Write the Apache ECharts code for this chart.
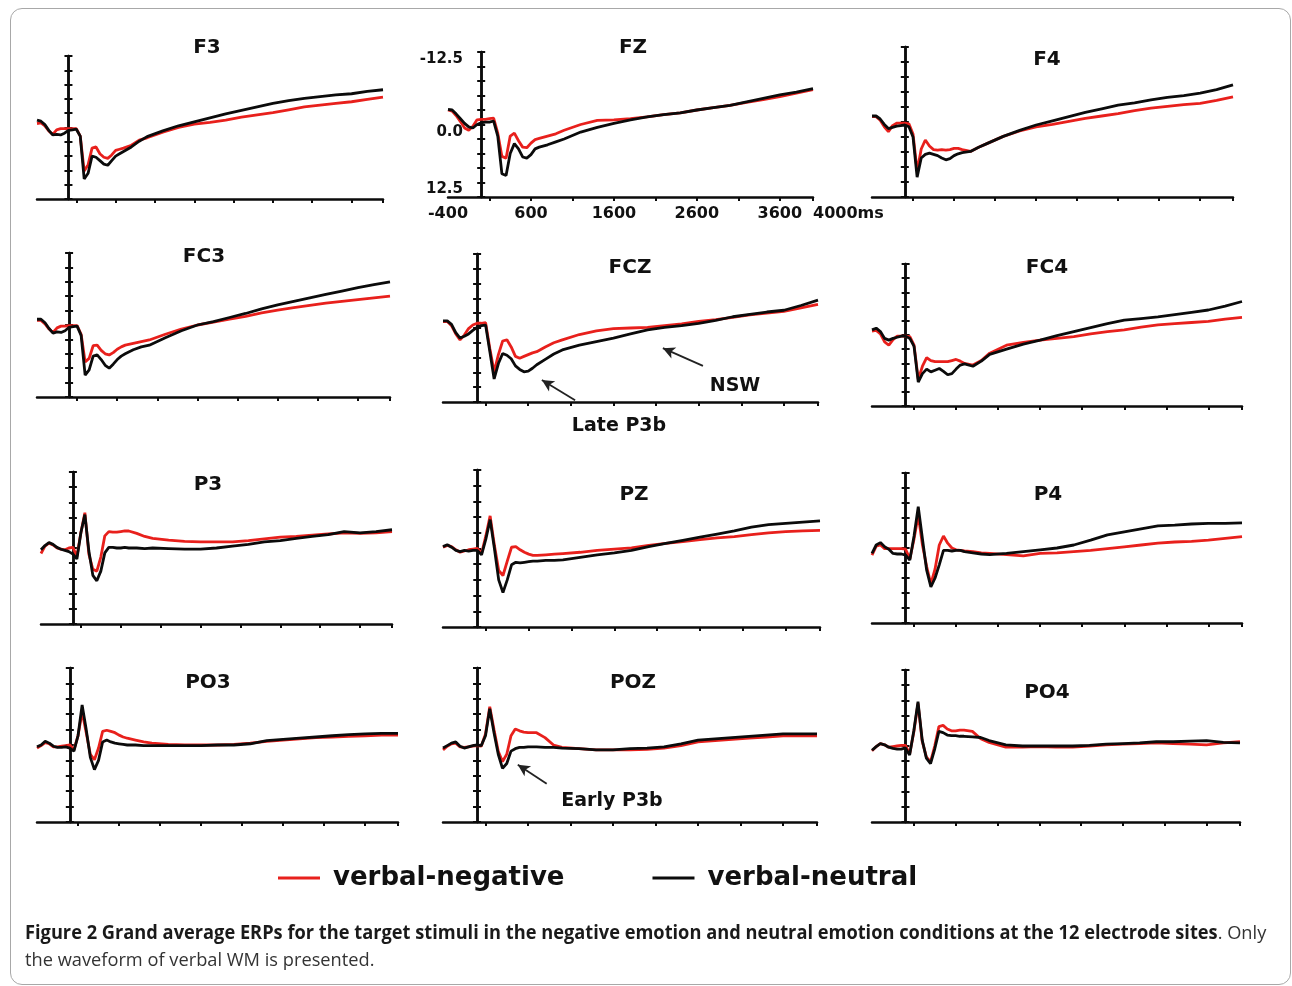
<!DOCTYPE html>
<html>
<head>
<meta charset="utf-8">
<script src="https://cdn.jsdelivr.net/npm/echarts@6/dist/echarts.min.js"></script>
<style>
  html, body { margin: 0; padding: 0; background: #fff; }
  #frame { position: absolute; left: 10px; top: 8px; width: 1281px; height: 977px; box-sizing: border-box; border: 1px solid #a8a8a8; border-radius: 12px; }
  #main { position: absolute; left: 0; top: 0; width: 1292px; height: 986px; }
</style>
</head>
<body>
<div id="frame"></div>
<div id="main"></div>
<script>
// time points (ms) shared by every waveform
const times = [-400, -350, -300, -250, -200, -150, -100, -50, 0, 50, 100, 150, 200, 250, 300, 350, 400, 450, 500, 550, 600, 650, 700, 800, 900, 1000, 1200, 1400, 1600, 1800, 2000, 2200, 2400, 2600, 2800, 3000, 3200, 3400, 3600, 3800, 4000]

// amplitudes in uV (negative drawn upward)
const f3Neg = [-0.7, -0.8, -0.3, 0.6, 1.2, 0.4, 0.2, 0.2, 0.2, 0.2, 0.2, 1.5, 7.6, 6.5, 3.6, 3.4, 4.6, 5.2, 5.4, 4.8, 4.0, 3.8, 3.6, 3.1, 2.2, 1.8, 0.8, 0.0, -0.6, -0.9, -1.3, -1.8, -2.2, -2.6, -3.1, -3.6, -3.9, -4.2, -4.5, -4.9, -5.3]
const f3Neu = [-1.3, -1.1, -0.5, 0.5, 1.3, 1.2, 1.3, 1.0, 0.5, 0.4, 0.3, 1.5, 9.0, 8.0, 5.0, 5.2, 5.8, 6.4, 6.6, 5.8, 5.0, 4.6, 4.2, 3.4, 2.4, 1.6, 0.6, -0.3, -1.0, -1.7, -2.4, -3.0, -3.6, -4.2, -4.7, -5.1, -5.4, -5.7, -5.9, -6.3, -6.6]
const fzNeg = [-2.5, -2.3, -1.5, -0.5, 0.6, 1.0, 0.3, -0.8, -0.9, -0.9, -1.0, -1.1, 1.5, 5.5, 5.8, 2.0, 1.5, 2.8, 3.9, 4.0, 3.2, 2.6, 2.4, 2.0, 1.6, 1.0, 0.0, -0.7, -0.8, -1.0, -1.3, -1.7, -2.0, -2.5, -2.9, -3.3, -3.8, -4.3, -4.8, -5.4, -6.0]
const fzNeu = [-2.6, -2.5, -1.8, -1.0, -0.2, 0.4, 0.6, 0.0, -0.3, -0.4, -0.4, -0.6, 2.0, 8.5, 8.8, 5.0, 3.3, 4.2, 5.6, 5.8, 5.2, 4.2, 3.9, 3.5, 3.0, 2.5, 1.3, 0.5, -0.2, -0.8, -1.3, -1.7, -2.0, -2.5, -2.9, -3.3, -3.9, -4.5, -5.1, -5.6, -6.2]
const f4Neg = [-0.9, -0.9, -0.3, 0.8, 1.6, 0.6, 0.2, 0.2, 0.2, 0.3, 2.0, 8.2, 4.5, 3.0, 4.0, 4.6, 4.7, 4.6, 4.7, 4.6, 4.4, 4.4, 4.6, 4.9, 4.2, 3.6, 2.4, 1.5, 0.8, 0.4, -0.1, -0.6, -1.0, -1.4, -1.9, -2.3, -2.6, -2.9, -3.1, -3.6, -4.2]
const f4Neu = [-1.0, -1.0, -0.5, 0.4, 1.1, 0.9, 0.7, 0.6, 0.5, 0.8, 2.5, 9.2, 6.0, 5.4, 5.2, 5.4, 5.6, 6.0, 6.3, 6.1, 5.6, 5.3, 5.1, 4.9, 4.2, 3.6, 2.4, 1.4, 0.5, -0.2, -0.9, -1.6, -2.2, -2.8, -3.2, -3.7, -4.1, -4.4, -4.8, -5.4, -6.2]
const fc3Neg = [-0.8, -0.8, -0.2, 0.7, 1.3, 0.5, 0.2, 0.2, 0.1, 0.1, 0.1, 1.6, 6.4, 5.8, 3.6, 3.5, 4.4, 5.0, 5.2, 4.8, 4.2, 3.8, 3.5, 3.2, 2.9, 2.6, 1.6, 0.7, 0.0, -0.5, -1.0, -1.5, -2.1, -2.6, -3.0, -3.4, -3.8, -4.1, -4.4, -4.7, -5.0]
const fc3Neu = [-1.0, -1.0, -0.4, 0.6, 1.4, 1.2, 1.3, 1.0, 0.4, 0.3, 0.2, 1.8, 8.7, 7.8, 5.4, 5.2, 6.0, 7.0, 7.5, 6.8, 6.0, 5.4, 5.0, 4.3, 3.8, 3.5, 2.2, 1.0, 0.0, -0.6, -1.3, -2.0, -2.8, -3.5, -4.1, -4.7, -5.3, -5.9, -6.5, -7.0, -7.5]
const fczNeg = [-1.1, -1.1, -0.4, 1.0, 2.0, 1.2, 0.1, -0.5, -0.8, -0.8, -0.9, 3.5, 7.4, 4.5, 2.2, 2.0, 3.2, 4.8, 5.1, 4.8, 4.5, 4.2, 4.0, 3.2, 2.5, 2.0, 1.1, 0.5, 0.1, 0.0, -0.1, -0.4, -0.7, -1.1, -1.4, -1.8, -2.2, -2.5, -2.8, -3.4, -4.0]
const fczNeu = [-1.2, -1.2, -0.6, 0.8, 1.7, 1.4, 1.0, 0.4, -0.1, -0.4, -0.5, 4.0, 8.6, 6.0, 4.3, 4.6, 5.2, 6.4, 7.0, 7.4, 7.3, 6.8, 6.2, 5.3, 4.4, 3.7, 2.9, 2.3, 1.7, 1.0, 0.3, -0.1, -0.4, -0.8, -1.3, -1.9, -2.3, -2.7, -3.0, -3.8, -4.7]
const fc4Neg = [-0.7, -0.8, -0.2, 1.2, 1.8, 0.8, 0.2, 0.2, 0.2, 0.3, 1.8, 7.8, 5.5, 4.0, 4.5, 4.7, 4.7, 4.7, 4.7, 4.5, 4.3, 4.6, 5.0, 5.3, 4.5, 3.2, 1.8, 1.3, 0.9, 0.6, 0.3, -0.2, -0.6, -0.9, -1.4, -1.8, -2.0, -2.2, -2.4, -2.8, -3.1]
const fc4Neu = [-0.9, -1.2, -0.6, 0.6, 0.9, 0.6, 0.4, 0.2, 0.2, 0.6, 2.0, 8.3, 6.8, 6.0, 6.5, 6.2, 5.9, 6.4, 7.0, 6.8, 6.0, 5.3, 5.1, 5.5, 4.6, 3.4, 2.5, 1.6, 0.9, 0.1, -0.6, -1.3, -2.0, -2.6, -2.9, -3.2, -3.6, -4.0, -4.4, -5.1, -5.9]
const p3Neg = [0.9, -0.3, -0.8, -0.5, 0.0, 0.2, 0.3, 0.0, -0.1, 1.4, -2.5, -5.8, 1.0, 3.5, 3.8, 1.5, -2.0, -2.7, -2.6, -2.6, -2.7, -2.8, -2.8, -2.4, -1.9, -1.6, -1.3, -1.1, -1.0, -1.0, -1.0, -1.2, -1.5, -1.8, -1.9, -2.1, -2.3, -2.5, -2.4, -2.5, -2.7]
const p3Neu = [0.3, -0.4, -0.9, -0.6, -0.1, 0.2, 0.4, 0.6, 1.0, 1.8, -2.5, -5.5, 0.5, 4.5, 5.4, 3.8, 0.8, -0.1, -0.1, 0.0, 0.0, -0.1, 0.0, 0.0, 0.1, 0.0, 0.1, 0.2, 0.2, 0.0, -0.3, -0.6, -1.0, -1.2, -1.6, -1.9, -2.2, -2.7, -2.5, -2.7, -3.0]
const pzNeg = [-0.2, -0.5, -0.3, 0.2, 0.6, 0.4, 0.2, 0.1, 0.0, 0.8, -2.0, -5.2, -0.5, 3.5, 4.3, 2.0, -0.2, -0.3, 0.2, 0.6, 0.9, 1.1, 1.1, 1.0, 0.9, 0.8, 0.6, 0.3, 0.1, -0.1, -0.5, -0.8, -1.1, -1.4, -1.7, -1.9, -2.2, -2.5, -2.7, -2.8, -2.9]
const pzNeu = [-0.3, -0.6, -0.2, 0.3, 0.5, 0.3, 0.4, 0.3, 0.3, 1.0, -1.5, -4.6, 0.0, 5.0, 7.0, 5.0, 2.6, 2.2, 2.3, 2.2, 2.1, 2.0, 2.0, 1.9, 1.9, 1.8, 1.4, 1.0, 0.7, 0.3, -0.3, -0.8, -1.3, -1.8, -2.3, -2.8, -3.4, -3.8, -4.0, -4.2, -4.4]
const p4Neg = [1.2, -0.3, -0.5, 0.1, 0.1, 0.1, 0.1, 0.1, 0.2, 1.8, -1.5, -5.5, -0.5, 3.1, 6.0, 3.5, -0.5, -2.0, -0.8, 0.0, 0.3, 0.4, 0.5, 0.6, 0.8, 0.9, 1.1, 1.3, 0.9, 0.8, 0.6, 0.4, 0.1, -0.2, -0.5, -0.8, -1.0, -1.1, -1.3, -1.6, -1.9]
const p4Neu = [0.9, -0.5, -0.9, -0.2, 0.2, 0.9, 1.0, 1.0, 1.2, 2.0, -2.0, -6.9, -1.5, 3.7, 6.5, 5.0, 2.8, 0.4, 0.4, 0.5, 0.4, 0.4, 0.6, 0.8, 1.0, 1.1, 0.9, 0.6, 0.3, 0.0, -0.5, -1.3, -2.2, -2.7, -3.2, -3.7, -3.8, -4.0, -4.1, -4.1, -4.2]
const po3Neg = [0.5, 0.1, -0.4, -0.2, 0.3, 0.3, 0.2, 0.1, 0.0, 0.8, -1.5, -5.4, -2.0, 1.5, 2.4, 0.5, -2.2, -2.4, -2.2, -2.0, -1.6, -1.3, -1.1, -0.8, -0.5, -0.3, -0.1, 0.0, 0.0, 0.0, -0.1, -0.3, -0.6, -0.8, -1.0, -1.2, -1.3, -1.4, -1.5, -1.6, -1.6]
const po3Neu = [0.3, 0.0, -0.6, -0.3, 0.2, 0.4, 0.4, 0.3, 0.5, 1.0, -1.5, -6.5, -2.5, 2.0, 4.0, 2.5, -0.5, -0.8, -0.5, -0.3, -0.2, -0.1, 0.0, 0.0, 0.1, 0.1, 0.1, 0.1, 0.1, 0.0, 0.0, -0.2, -0.7, -0.9, -1.1, -1.3, -1.5, -1.7, -1.8, -1.9, -1.9]
const pozNeg = [0.8, 0.2, -0.2, -0.3, 0.3, 0.4, 0.3, 0.2, 0.1, 0.2, -1.8, -6.2, -2.5, 1.0, 2.7, 1.5, -1.5, -2.6, -2.3, -2.1, -2.0, -2.0, -2.0, -1.2, 0.0, 0.4, 0.6, 0.8, 0.8, 0.8, 0.7, 0.5, 0.1, -0.5, -0.7, -0.9, -1.1, -1.3, -1.5, -1.5, -1.5]
const pozNeu = [0.5, 0.1, -0.3, -0.5, 0.2, 0.5, 0.3, 0.1, 0.0, 0.1, -1.5, -5.9, -2.0, 1.5, 3.8, 3.0, 1.0, 0.6, 0.4, 0.4, 0.3, 0.3, 0.3, 0.4, 0.4, 0.5, 0.6, 0.8, 0.8, 0.6, 0.5, 0.3, -0.2, -0.8, -1.0, -1.2, -1.4, -1.6, -1.8, -1.8, -1.8]
const po4Neg = [0.8, 0.1, -0.4, -0.2, 0.2, 0.1, 0.0, -0.1, -0.1, 1.3, -2.3, -7.0, -0.8, 1.8, 2.6, 0.0, -3.2, -3.4, -2.8, -2.5, -2.5, -2.6, -2.6, -2.4, -1.2, -0.6, 0.2, 0.2, 0.1, 0.2, 0.2, 0.0, -0.2, -0.3, -0.4, -0.5, -0.4, -0.3, -0.2, -0.5, -0.7]
const po4Neu = [0.7, 0.1, -0.4, -0.2, 0.2, 0.4, 0.5, 0.5, 0.3, 1.5, -2.5, -7.3, -1.0, 2.0, 2.9, 0.5, -2.4, -2.2, -1.8, -1.7, -1.7, -1.6, -1.6, -1.5, -1.4, -0.9, -0.2, 0.0, 0.0, 0.0, 0.0, -0.1, -0.3, -0.4, -0.5, -0.7, -0.7, -0.8, -0.9, -0.6, -0.5]

// axis ticks and labels
const xTicks = [100, 600, 1100, 1600, 2100, 2600, 3100, 3600, 4000]
const xLabels = [-400, 600, 1600, 2600, 3600, 4000]
const yLabels = [-12.5, 0, 12.5]

// annotation arrows, [from, to] in data units
const lateP3bArrow = [[1150, 12.2], [760, 8.8]]
const nswArrow = [[2650, 6.4], [2180, 3.4]]
const earlyP3bArrow = [[820, 6.3], [480, 3.2]]

const RED = '#e8201c'
const BLACK = '#0b0b0b'
const FONT = '"DejaVu Sans", Verdana, sans-serif'

// layout: [left, top, width, height] of each plot, title centre
const panels = [
  { name: 'F3', neg: f3Neg, neu: f3Neu, box: [37, 56, 346, 143], t: [207, 48] },
  { name: 'FZ', neg: fzNeg, neu: fzNeu, box: [448, 52, 365, 145], t: [633, 48], labels: true },
  { name: 'F4', neg: f4Neg, neu: f4Neu, box: [872, 47, 361, 150], t: [1047, 60] },
  { name: 'FC3', neg: fc3Neg, neu: fc3Neu, box: [37, 253, 353, 144], t: [204, 257] },
  { name: 'FCZ', neg: fczNeg, neu: fczNeu, box: [443, 254, 375, 148], t: [630, 268], arrows: [lateP3bArrow, nswArrow] },
  { name: 'FC4', neg: fc4Neg, neu: fc4Neu, box: [872, 264, 370, 142], t: [1047, 268] },
  { name: 'P3', neg: p3Neg, neu: p3Neu, box: [41, 472, 351, 152], t: [208, 485] },
  { name: 'PZ', neg: pzNeg, neu: pzNeu, box: [443, 470, 377, 157], t: [634, 495] },
  { name: 'P4', neg: p4Neg, neu: p4Neu, box: [872, 473, 370, 150], t: [1048, 495] },
  { name: 'PO3', neg: po3Neg, neu: po3Neu, box: [37, 668, 361, 154], t: [208, 683] },
  { name: 'POZ', neg: pozNeg, neu: pozNeu, box: [443, 668, 374, 154], t: [633, 683], arrows: [earlyP3bArrow] },
  { name: 'PO4', neg: po4Neg, neu: po4Neu, box: [872, 670, 368, 152], t: [1047, 693] }
]

const labelText = { color: '#111', fontFamily: FONT, fontWeight: 'bold', fontSize: 15 }

const grid = []
const xAxis = []
const yAxis = []
const series = []
const graphic = []

panels.forEach((p, i) => {
  grid.push({ left: p.box[0], top: p.box[1], width: p.box[2], height: p.box[3] })
  xAxis.push({
    gridIndex: i, type: 'value', min: -400, max: 4000,
    axisLine: { onZero: false, lineStyle: { color: BLACK, width: 2.5 } },
    axisTick: { customValues: xTicks, length: 4, lineStyle: { color: BLACK, width: 2 } },
    axisLabel: {
      show: !!p.labels, customValues: xLabels, margin: 9,
      formatter: v => (v === 4000 ? '4000ms' : String(v)),
      alignMaxLabel: 'left',
      color: '#111', fontFamily: FONT, fontWeight: 'bold', fontSize: 16
    },
    splitLine: { show: false }
  })
  // two y axes on the same scale: ticks out + ticks in gives the crossed ticks
  ;[false, true].forEach(inside => {
    yAxis.push({
      gridIndex: i, type: 'value', inverse: true, min: -12.5, max: 12.5, interval: 2.5,
      position: 'left',
      axisLine: { onZero: true, onZeroAxisIndex: i, lineStyle: { color: BLACK, width: 2.5 } },
      axisTick: { inside: inside, length: 4, lineStyle: { color: BLACK, width: 2 } },
      axisLabel: Object.assign({
        show: !!p.labels && !inside, customValues: yLabels, margin: -15,
        formatter: v => (v === 0 ? '{z|0.0}' : v.toFixed(1)),
        verticalAlignMinLabel: 'top', verticalAlignMaxLabel: 'bottom',
        rich: { z: Object.assign({ padding: [15, 0, 0, 0] }, labelText) }
      }, labelText),
      splitLine: { show: false }
    })
  })
  series.push({
    name: 'verbal-negative', type: 'line', xAxisIndex: i, yAxisIndex: 2 * i,
    data: times.map((t, k) => [t, p.neg[k]]),
    symbol: 'none', lineStyle: { color: RED, width: 2.8 }, itemStyle: { color: RED },
    silent: true
  })
  const neu = {
    name: 'verbal-neutral', type: 'line', xAxisIndex: i, yAxisIndex: 2 * i,
    data: times.map((t, k) => [t, p.neu[k]]),
    symbol: 'none', lineStyle: { color: BLACK, width: 2.8 }, itemStyle: { color: BLACK },
    silent: true
  }
  if (p.arrows) {
    neu.markLine = {
      silent: true, symbol: ['none', 'arrow'], symbolSize: [9, 12],
      label: { show: false },
      lineStyle: { color: '#222', width: 1.8, type: 'solid' },
      data: p.arrows.map(a => [{ coord: a[0] }, { coord: a[1] }])
    }
  }
  series.push(neu)
  graphic.push({
    type: 'text', x: p.t[0], y: p.t[1],
    style: { text: p.name, align: 'center', verticalAlign: 'middle', font: 'bold 20px ' + FONT, fill: '#111' }
  })
})

// annotation words
graphic.push(
  { type: 'text', x: 735, y: 386, style: { text: 'NSW', align: 'center', verticalAlign: 'middle', font: 'bold 19px ' + FONT, fill: '#111' } },
  { type: 'text', x: 619, y: 426, style: { text: 'Late P3b', align: 'center', verticalAlign: 'middle', font: 'bold 19px ' + FONT, fill: '#111' } },
  { type: 'text', x: 612, y: 801, style: { text: 'Early P3b', align: 'center', verticalAlign: 'middle', font: 'bold 19px ' + FONT, fill: '#111' } }
)

// figure caption (condensed a little to fit the reference width)
graphic.push({
  type: 'text', x: 25, y: 920, scaleX: 0.96,
  style: {
    text: '{b|Figure 2 Grand average ERPs for the target stimuli in the negative emotion and neutral emotion conditions at the 12 electrode sites}{r|. Only}\n{r|the waveform of verbal WM is presented.}',
    rich: {
      b: { fontFamily: '"Open Sans", sans-serif', fontWeight: 'bold', fontSize: 19, lineHeight: 27, fill: '#1a1a1a' },
      r: { fontFamily: '"Open Sans", sans-serif', fontSize: 19, lineHeight: 27, fill: '#333' }
    }
  }
})

const myChart = echarts.init(document.getElementById('main'))
myChart.setOption({
  animation: false,
  backgroundColor: 'transparent',
  grid: grid,
  xAxis: xAxis,
  yAxis: yAxis,
  series: series,
  graphic: graphic,
  legend: {
    data: [
      { name: 'verbal-negative', itemStyle: { color: RED } },
      { name: 'verbal-neutral', itemStyle: { color: BLACK } }
    ],
    left: 278, top: 865, padding: 0, icon: 'rect', itemWidth: 42, itemHeight: 3, itemGap: 88,
    selectedMode: false,
    textStyle: { fontFamily: FONT, fontWeight: 'bold', fontSize: 26, color: '#111', padding: [0, 0, 0, 8] }
  }
})
</script>
</body>
</html>
